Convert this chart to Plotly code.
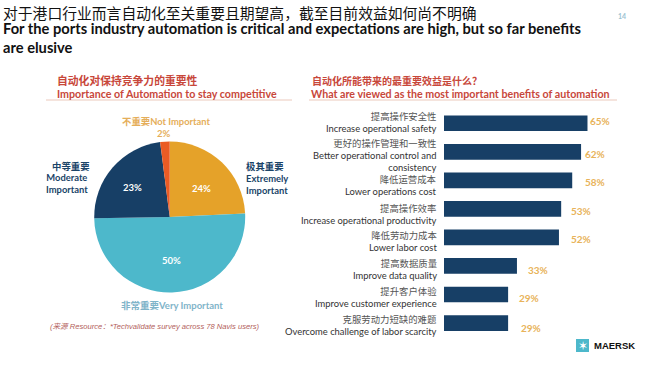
import plotly.graph_objects as go

W, H = 650, 366
CJK = "Noto Sans CJK SC"
LAT = "Lato, Noto Sans CJK SC"

slice_names = ["Extremely Important", "Very Important", "Moderate Important", "Not Important"]
slice_values = [24, 50, 23, 2]
slice_colors = ["#E5A229", "#4DB8CB", "#173F66", "#EA5B25"]

bar_zh = ["提高操作安全性", "更好的操作管理和一致性", "降低运营成本", "提高操作效率",
          "降低劳动力成本", "提高数据质量", "提升客户体验", "克服劳动力短缺的难题"]
bar_en = ["Increase operational safety", "Better operational control and<br>consistency",
          "Lower operations cost", "Increase operational productivity", "Lower labor cost",
          "Improve data quality", "Improve customer experience",
          "Overcome challenge of labor scarcity"]
bar_values = [65, 62, 58, 53, 52, 33, 29, 29]

fig = go.Figure()
fig.add_trace(go.Pie(
    labels=slice_names, values=slice_values, sort=False, direction="clockwise", rotation=0,
    marker=dict(colors=slice_colors, line=dict(width=0)), textinfo="none", hoverinfo="label+percent",
    showlegend=False,
    domain=dict(x=[94.2 / W, 245.2 / W], y=[1 - 292.5 / H, 1 - 141.5 / H]),
))
cats = [e.replace("<br>", " ") for e in bar_en]
fig.add_trace(go.Bar(
    y=cats, x=bar_values, orientation="h", marker=dict(color="#173F66", line=dict(width=0)),
    showlegend=False, width=0.55,
))


def note(text, x, y, size, color, anchor="center", font=LAT):
    pad = {"left": -2, "right": 2, "center": 0}[anchor]
    fig.add_annotation(text=text, xref="paper", yref="paper", x=(x + pad) / W, y=1 - y / H,
                       xanchor=anchor, yanchor="middle", showarrow=False, align=anchor,
                       font=dict(size=size, color=color, family=font))


def b(t):
    return "<b>" + t + "</b>"


# Headline
note("对于港口行业而言自动化至关重要且期望高，截至目前效益如何尚不明确", 3, 12, 14.8, "#111", "left", CJK)
note(b("For the ports industry automation is critical and expectations are high, but so far benefits<br>are elusive"),
     3, 37, 14.7, "#111", "left")
note(b("14"), 622, 16.5, 7, "#9CC3D2", "center")

# Section titles
RED = "#C8473A"
note(b("自动化对保持竞争力的重要性"), 57, 80, 10.8, RED, "left", CJK)
note(b("Importance of Automation to stay competitive"), 57, 93.5, 10.7, RED, "left")
note(b("自动化所能带来的最重要效益是什么？"), 312, 80, 10, RED, "left", CJK)
note(b("What are viewed as the most important benefits of automation"), 311, 93.5, 10.7, RED, "left")
for x0, x1 in [(46, 292), (309, 617)]:
    fig.add_shape(type="line", xref="paper", yref="paper", x0=x0 / W, x1=x1 / W,
                  y0=1 - 100 / H, y1=1 - 100 / H, line=dict(color="#EBC9BC", width=1))

# Pie labels
NAVY = "#1A4468"
AMB = "#E5AE5A"
note(b("不重要Not Important"), 165.5, 121, 9.4, AMB)
note(b("2%"), 164, 133, 9.5, AMB)
note(b("极其重要<br>Extremely<br>Important"), 246, 178.5, 9.4, NAVY, "left")
note(b("中等重要"), 71, 166, 9.4, NAVY)
note(b("Moderate<br>Important"), 67, 183, 9.4, NAVY)
note(b("非常重要Very Important"), 172, 305, 9.5, "#7FB4C9")
note(b("24%"), 202, 188, 9.5, "#FFF")
note(b("23%"), 132, 187, 9.5, "#FFF")
note(b("50%"), 171, 260, 9.5, "#FFF")
note("<i>(来源 Resource：*Techvalidate survey across 78 Navis users)</i>", 50, 326, 7.6, "#B3605A", "left",
     "Liberation Sans, " + CJK)

# Bar labels
label_y = [122.75, 155, 185.75, 214, 241.5, 269.75, 297.5, 325.75]
val_x = [600, 595, 595, 581, 581, 537.5, 528.6, 531]
val_y = [121, 154, 182, 210.7, 239, 270, 297.5, 327.5]
for i in range(len(bar_values)):
    note('<span style="color:#555">' + bar_zh[i] + "</span><br>" + bar_en[i], 437, label_y[i], 9.4, "#333", "right")
    note(b(f"{bar_values[i]}%"), val_x[i], val_y[i], 10, "#E8B35A")

# Logo
fig.add_shape(type="rect", xref="paper", yref="paper", x0=576 / W, x1=589 / W, y0=1 - 352 / H, y1=1 - 339 / H,
              fillcolor="#4DB8CB", line=dict(width=0))
note("✶", 582.5, 345.5, 12, "#FFF", "center", "DejaVu Sans")
note(b("MAERSK"), 594, 345.5, 9.5, "#111", "left", "Liberation Sans")

fig.update_layout(
    width=W, height=H, margin=dict(l=0, r=0, t=0, b=0), paper_bgcolor="#FFF", plot_bgcolor="rgba(0,0,0,0)",
    xaxis=dict(domain=[444 / W, 587.7 / W], range=[0, 65], visible=False),
    yaxis=dict(domain=[1 - 337.3 / H, 1 - 109 / H], categoryorder="array", categoryarray=cats,
               autorange="reversed", visible=False),
)
fig.write_html("out.html", config={"displayModeBar": False},
               post_script="document.body.style.margin='0';document.documentElement.style.overflow='hidden';")
